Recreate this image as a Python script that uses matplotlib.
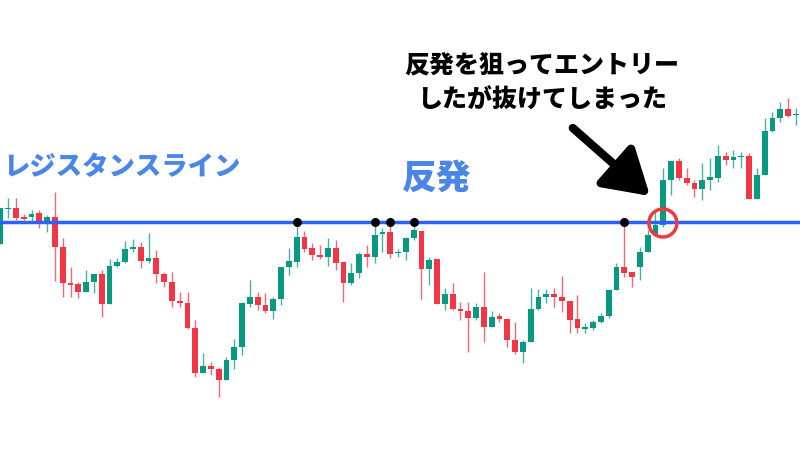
import matplotlib
matplotlib.use("Agg")
import matplotlib.pyplot as plt
from matplotlib.patches import Ellipse
import numpy as np

plt.rcParams['font.family'] = ['Noto Sans CJK JP', 'DejaVu Sans']

opens = [206, 241, 242, 233, 233, 237, 228, 233, 203, 167, 166, 158, 168, 176, 146, 184, 188, 201,
         203, 189, 192, 176, 168, 149, 147, 122, 77, 84, 81, 70, 90, 103, 146, 153, 145, 139, 151, 183,
         188, 213, 202, 195, 193, 202, 188, 167, 177, 196, 193, 216, 218, 197, 198, 212, 219, 181, 191,
         146, 156, 141, 139, 132, 143, 123, 134, 131, 110, 98, 108, 141, 153, 156, 153, 149, 131, 121,
         122, 128, 134, 160, 183, 178, 183, 198, 216, 225, 270, 289, 272, 267, 261, 270, 272, 294, 290,
         293, 294, 251, 275, 319, 332, 341, 335]
highs = [242, 252, 252, 236, 240, 240, 235, 258, 212, 183, 168, 180, 176, 180, 191, 192, 209, 211,
         208, 217, 200, 178, 178, 158, 158, 130, 97, 88, 83, 93, 111, 148, 170, 158, 157, 153, 183, 202,
         228, 219, 207, 205, 212, 210, 188, 187, 198, 205, 228, 222, 228, 201, 213, 228, 219, 193, 191,
         162, 167, 148, 148, 147, 178, 139, 137, 131, 128, 110, 162, 161, 161, 162, 174, 149, 155, 127,
         130, 137, 161, 187, 228, 178, 203, 220, 238, 282, 289, 292, 282, 270, 287, 292, 305, 298, 300,
         298, 297, 282, 332, 338, 348, 352, 342]
lows = [206, 232, 230, 230, 227, 222, 218, 169, 153, 153, 152, 158, 157, 133, 146, 183, 187, 198,
        182, 187, 167, 163, 143, 143, 121, 73, 77, 75, 53, 70, 81, 95, 143, 140, 137, 131, 145, 175,
        183, 198, 190, 191, 184, 180, 148, 165, 172, 183, 187, 198, 192, 193, 190, 210, 151, 165, 146,
        140, 140, 130, 98, 130, 108, 123, 128, 103, 96, 87, 108, 140, 147, 143, 138, 117, 117, 117,
        120, 127, 132, 160, 173, 163, 170, 198, 215, 223, 255, 270, 265, 253, 250, 260, 268, 285, 282,
        282, 251, 251, 275, 318, 328, 333, 325]
closes = [242, 242, 232, 232, 236, 227, 233, 203, 167, 166, 158, 168, 176, 146, 184, 188, 201, 203,
          189, 192, 176, 168, 149, 147, 122, 77, 84, 81, 70, 90, 103, 147, 153, 145, 139, 151, 183, 189,
          213, 201, 195, 193, 202, 187, 167, 177, 196, 193, 215, 218, 196, 198, 212, 220, 181, 190, 146,
          156, 141, 139, 132, 143, 123, 133, 131, 110, 98, 108, 141, 153, 156, 153, 149, 130, 122, 123,
          128, 134, 160, 183, 177, 173, 198, 215, 225, 270, 289, 272, 267, 261, 270, 273, 294, 290, 293,
          294, 251, 275, 319, 332, 341, 334, 336]

resistance = 228
touch_idx = [38, 48, 50, 53, 80]
breakout_idx = 84

up_color = '#089981'
down_color = '#F23645'

fig = plt.figure(figsize=(8, 4.5), dpi=100)
ax = fig.add_axes([0, 0, 1, 1])
ax.set_xlim(-0.04, 102.53)
ax.set_ylim(0, 450)
ax.axis('off')

x = np.arange(len(opens))
o = np.array(opens, float)
h = np.array(highs, float)
l = np.array(lows, float)
c = np.array(closes, float)
colors = [up_color if cc >= oo else down_color for oo, cc in zip(o, c)]

ax.vlines(x, l, h, colors=colors, linewidth=1.0, alpha=0.75, zorder=2)
body_h = np.where(np.abs(c - o) < 1.5, 1.5 * np.sign(c - o + 1e-9), c - o)
ax.bar(x, body_h, bottom=o, width=0.74, color=colors, linewidth=0, zorder=3)

ax.axhline(resistance, color='#2962ff', linewidth=2.5, zorder=4)

ax.scatter(touch_idx, [resistance] * len(touch_idx), s=30, color='black', zorder=6)

ell = Ellipse((breakout_idx + 0.95, resistance - 1), width=28 / 7.8, height=28,
              fill=False, edgecolor='#ef3b3b', linewidth=2.5, zorder=6)
ax.add_patch(ell)

ax.annotate('', xy=(83.3, 254), xytext=(73.4, 322),
            arrowprops=dict(arrowstyle='-|>,head_length=0.9,head_width=0.55', lw=6,
                            color='black', mutation_scale=30, shrinkA=0, shrinkB=0),
            zorder=7)

ax.text(122 / 7.8, 450 - 167, 'レジスタンスライン', color='#4a86e8', fontsize=19,
        fontweight='heavy', ha='center', va='center')
ax.text(436 / 7.8, 450 - 178, '反発', color='#4a86e8', fontsize=25,
        fontweight='heavy', ha='center', va='center')
ax.text(542 / 7.8, 450 - 64, '反発を狙ってエントリー', color='black', fontsize=18,
        fontweight='heavy', ha='center', va='center')
ax.text(542 / 7.8, 450 - 100, 'したが抜けてしまった', color='black', fontsize=18,
        fontweight='heavy', ha='center', va='center')

fig.savefig('out.png', dpi=100, facecolor='white')
